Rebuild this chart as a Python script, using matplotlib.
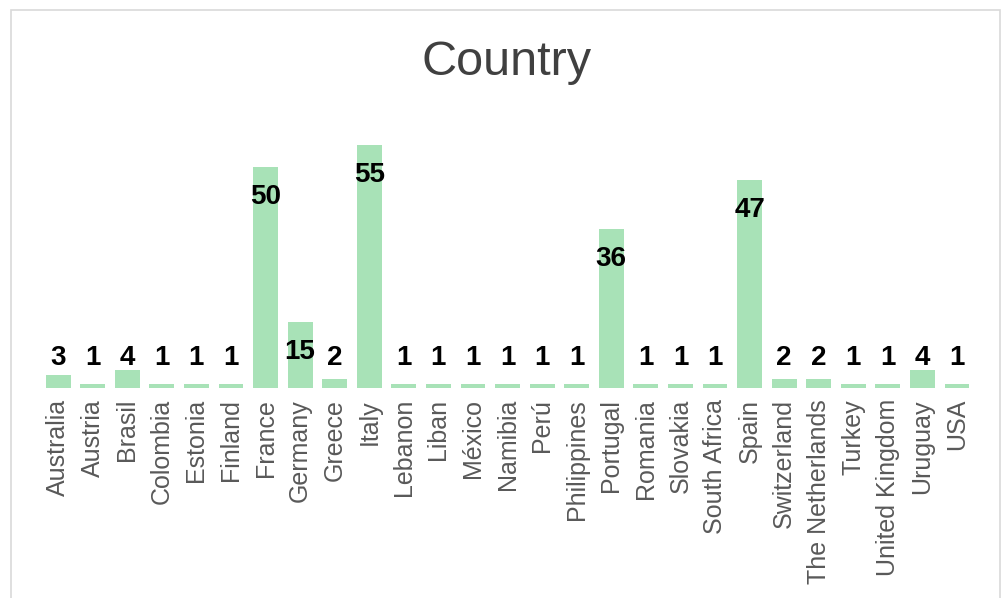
import matplotlib
matplotlib.use("Agg")
import matplotlib.pyplot as plt
from matplotlib.patches import Rectangle

plt.rcParams["font.family"] = ["Liberation Sans", "DejaVu Sans"]

countries = ["Australia", "Austria", "Brasil", "Colombia", "Estonia", "Finland",
             "France", "Germany", "Greece", "Italy", "Lebanon", "Liban", "México",
             "Namibia", "Perú", "Philippines", "Portugal", "Romania", "Slovakia",
             "South Africa", "Spain", "Switzerland", "The Netherlands", "Turkey",
             "United Kingdom", "Uruguay", "USA"]
counts = [3, 1, 4, 1, 1, 1, 50, 15, 2, 55, 1, 1, 1, 1, 1, 1, 36, 1, 1, 1,
          47, 2, 2, 1, 1, 4, 1]

BAR = "#a8e2b7"
GRID_GRAY = "#595959"

fig = plt.figure(figsize=(10.04, 5.98), dpi=100)
# light frame around the chart area
fig.patches.append(Rectangle((0.011, -0.01), 0.985, 0.993, transform=fig.transFigure,
                             fill=False, edgecolor="#d9d9d9", lw=1.2))

ax = fig.add_axes([0.0372, 0.3512, 0.9367, 0.4435])
x = range(len(countries))
ax.bar(x, counts, width=0.72, color=BAR)
ax.set_xlim(-0.6, len(countries) - 0.4)
ax.set_ylim(0, 60)

for i, v in enumerate(counts):
    if v > 12:
        # inside, just below the top of the bar
        ax.annotate(str(v), (i, v), xytext=(0, -21.5), textcoords="offset points",
                    ha="center", va="center", fontsize=20, fontweight="bold",
                    color="black")
    else:
        ax.annotate(str(v), (i, 0), xytext=(0, 21.5), textcoords="offset points",
                    ha="center", va="center", fontsize=20, fontweight="bold",
                    color="black")

ax.set_xticks(list(x))
ax.set_xticklabels(countries, rotation=90, fontsize=18, color=GRID_GRAY)
ax.tick_params(axis="x", length=0, pad=8)
ax.set_yticks([])
for s in ax.spines.values():
    s.set_visible(False)

fig.text(0.505, 0.895, "Country", ha="center", va="center", fontsize=35,
         color="#404040")

fig.savefig("out.png", dpi=100)
